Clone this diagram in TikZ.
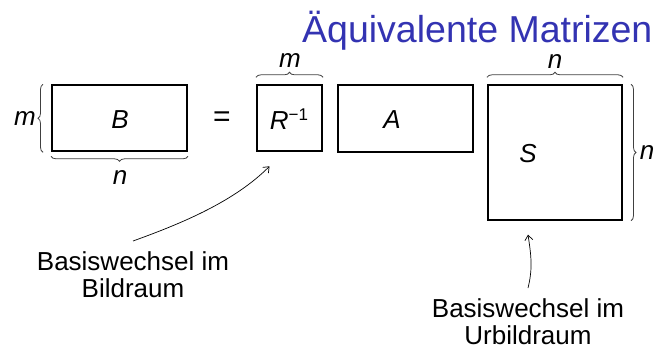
\documentclass[tikz,border=0pt]{standalone}
\usepackage{fontspec}
\setmainfont{Liberation Sans}
\usetikzlibrary{decorations.pathreplacing,arrows.meta,calc}
\definecolor{titleblue}{RGB}{51,51,178}
\begin{document}
\begin{tikzpicture}[x=1pt,y=-1pt,
  box/.style={draw,line width=2pt,inner sep=0pt},
  mathlbl/.style={font=\fontsize{26}{30}\selectfont\itshape,inner sep=0pt},
  brc/.style={decorate,decoration={brace,amplitude=5pt},line width=0.8pt,black!75},
  lbl/.style={font=\fontsize{26}{27}\selectfont,align=center,inner sep=0pt},
  conn/.style={line width=0.7pt,-{Straight Barb[length=5pt,width=8pt]}}]
\useasboundingbox (0,0) rectangle (655,348);
\node[anchor=base west,text=titleblue,font=\fontsize{37.5}{40}\selectfont,inner sep=0pt] (title) at (302,42) {Äquivalente Matrizen};
% boxes
\node[box,minimum width=135pt,minimum height=66pt] (B) at (119.5,118.3) {};
\node[box,minimum width=65pt,minimum height=66pt] (R) at (289.5,118.3) {};
\node[box,minimum width=135pt,minimum height=67pt] (A) at (405.5,118.8) {};
\node[box,minimum width=134pt,minimum height=134.4pt] (S) at (555,152.5) {};
% letters
\node[mathlbl] (Bl) at (120,120) {B};
\node[mathlbl] (Rl) at (289,119) {R\raisebox{9pt}{\fontsize{17}{19}\selectfont\upshape −1}};
\node[mathlbl] (Al) at (392,120) {A};
\node[mathlbl] (Sl) at (528,154) {S};
\node[font=\fontsize{30}{30}\selectfont,inner sep=0pt] (eq) at (222,119) {=};
% braces
\draw[brc] ([xshift=-8pt]B.south west) -- ([xshift=-8pt]B.north west);
\draw[brc] ([yshift=-4pt]B.south east) -- ([yshift=-4pt]B.south west);
\draw[brc] ([yshift=7pt]R.north west) -- ([yshift=7pt]R.north east);
\draw[brc] ([yshift=7pt]S.north west) -- ([yshift=7pt]S.north east);
\draw[brc] ([xshift=8pt]S.north east) -- ([xshift=8pt]S.south east);
\node[mathlbl] (mB) at (25,119) {m};
\node[mathlbl] (nB) at (120,178) {n};
\node[mathlbl] (mR) at (290,61) {m};
\node[mathlbl] (nSt) at (555,62) {n};
\node[mathlbl] (nSr) at (647,153) {n};
% annotations
\node[lbl,anchor=north] (l1) at (133,251) {Basiswechsel im\\Bildraum};
\node[lbl,anchor=north] (l2) at (528,298) {Basiswechsel im\\Urbildraum};
\draw[conn] ([yshift=10pt]l1.north) .. controls +(50,-18) and +(-35,35) .. ([shift={(-20pt,-14pt)}]R.south);
\draw[conn] ([yshift=10pt]l2.north) .. controls +(5,-20) and +(3,20) .. ([shift={(-27pt,-14pt)}]S.south);
\end{tikzpicture}
\end{document}
